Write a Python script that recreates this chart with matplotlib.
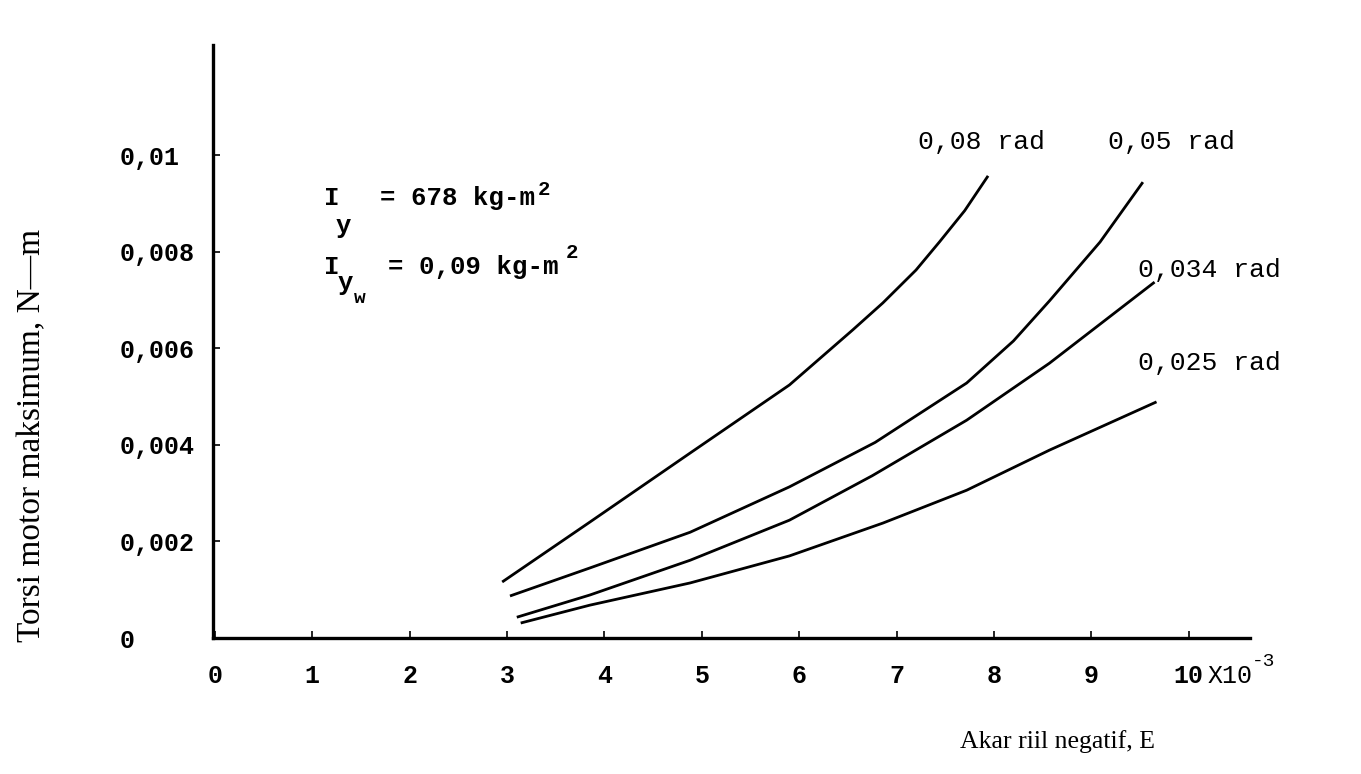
import matplotlib
matplotlib.use("Agg")
import matplotlib.pyplot as plt

# ---- data (x in units of 1e-3, torque in units of 1e-3 N-m) ----
x_08 = [2.95, 3.85, 4.88, 5.90, 6.55, 6.86, 7.20, 7.44, 7.70, 7.94]
y_08 = [1.16, 2.40, 3.83, 5.24, 6.38, 6.94, 7.62, 8.20, 8.85, 9.57]
x_05 = [3.03, 3.85, 4.88, 5.90, 6.78, 7.72, 8.20, 8.57, 9.09, 9.53]
y_05 = [0.87, 1.45, 2.19, 3.13, 4.05, 5.28, 6.15, 6.98, 8.20, 9.44]
x_034 = [3.10, 3.85, 4.88, 5.90, 6.75, 7.72, 8.57, 9.65]
y_034 = [0.43, 0.89, 1.61, 2.44, 3.36, 4.51, 5.69, 7.37]
x_025 = [3.14, 3.85, 4.88, 5.90, 6.86, 7.72, 8.57, 9.67]
y_025 = [0.31, 0.68, 1.14, 1.70, 2.38, 3.06, 3.89, 4.89]
curve_labels = ["0,08 rad", "0,05 rad", "0,034 rad", "0,025 rad"]

x_ticks = list(range(0, 11))
x_ticklabels = [str(v) for v in x_ticks]
y_ticks = [0, 0.002, 0.004, 0.006, 0.008, 0.01]
y_ticklabels = ["0", "0,002", "0,004", "0,006", "0,008", "0,01"]

MONO = ["Liberation Mono", "DejaVu Sans Mono"]
SERIF = ["Liberation Serif", "DejaVu Serif"]

W, H = 1361, 774
fig = plt.figure(figsize=(W / 100, H / 100), dpi=100)
ax = fig.add_axes([213 / W, 1 - 638 / H, (1250 - 213) / W, (638 - 45) / H])

for xs, ys in [(x_08, y_08), (x_05, y_05), (x_034, y_034), (x_025, y_025)]:
    ax.plot(xs, [v * 1e-3 for v in ys], color="black", lw=2.0,
            solid_capstyle="butt", solid_joinstyle="round")

ax.set_xlim(-0.02, 10.63)
ax.set_ylim(0, 0.01228)
for s in ["top", "right"]:
    ax.spines[s].set_visible(False)
for s in ["left", "bottom"]:
    ax.spines[s].set_linewidth(2.4)

ax.set_xticks(x_ticks)
ax.set_xticklabels(x_ticklabels, fontfamily=MONO, fontsize=18, weight="bold")
ax.set_yticks(y_ticks)
ax.set_yticklabels(y_ticklabels, fontfamily=MONO, fontsize=18, ha="left",
                   weight="bold")
ax.tick_params(axis="x", direction="in", length=5, width=1.2, pad=19)
ax.tick_params(axis="y", direction="in", length=5, width=1.2, pad=67)

# exponent at end of x axis
fig.text(1208 / W, 1 - 683 / H, "X10", fontfamily=MONO, fontsize=18,
         ha="left", va="baseline")
fig.text(1252 / W, 1 - 666 / H, "-3", fontfamily=MONO, fontsize=14,
         ha="left", va="baseline")

# axis labels
fig.text(1057 / W, 1 - 742 / H, "Akar riil negatif, E", fontfamily=SERIF,
         fontsize=18.5, ha="center", va="center")
fig.text(32 / W, 1 - 435 / H, "Torsi motor maksimum, N\u2014m", fontfamily=SERIF,
         fontsize=24, rotation=90, ha="center", va="center")

# curve labels
label_pos = [(918, 142), (1108, 142), (1138, 270), (1138, 363)]
for (px, py), t in zip(label_pos, curve_labels):
    fig.text(px / W, 1 - py / H, t, fontfamily=MONO, fontsize=19,
             ha="left", va="center")

# parameter annotation
def ftxt(px, py, t, size=18.5, weight="bold"):
    fig.text(px / W, 1 - py / H, t, fontfamily=MONO, fontsize=size,
             weight=weight, ha="left", va="baseline")

ftxt(324, 205, "I")
ftxt(380, 205, "= 678 kg-m")
ftxt(538, 195, "2", size=15)
ftxt(336, 233, "y")
ftxt(324, 274, "I")
ftxt(388, 274, "= 0,09 kg-m")
ftxt(566, 258, "2", size=15)
ftxt(338, 290, "y")
ftxt(354, 303, "w", size=14)

fig.savefig("out.png", dpi=100)
